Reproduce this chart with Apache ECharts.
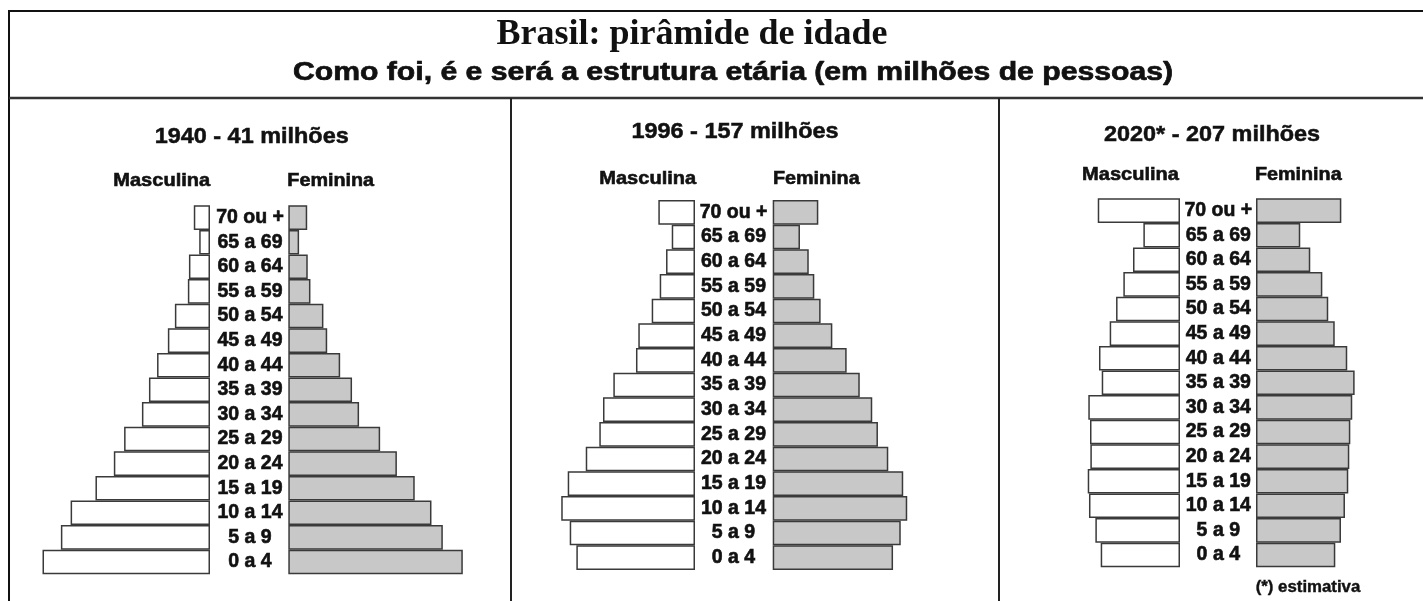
<!DOCTYPE html>
<html>
<head>
<meta charset="utf-8">
<script src="https://cdn.jsdelivr.net/npm/echarts@6/dist/echarts.min.js"></script>
<style>html,body{margin:0;padding:0;background:#fff}#c{width:1423px;height:601px}</style>
</head>
<body>
<div id="c"></div>
<script>
// Age groups, youngest (bottom) to oldest (top)
const ageGroups = ['0 a 4','5 a 9','10 a 14','15 a 19','20 a 24','25 a 29','30 a 34','35 a 39','40 a 44','45 a 49','50 a 54','55 a 59','60 a 64','65 a 69','70 ou +'];

// Population in millions
const male1940   = [3.10, 2.76, 2.58, 2.12, 1.78, 1.59, 1.26, 1.13, 0.98, 0.78, 0.65, 0.41, 0.39, 0.20, 0.30];
const female1940 = [3.23, 2.86, 2.65, 2.34, 2.01, 1.70, 1.31, 1.18, 0.96, 0.72, 0.65, 0.41, 0.36, 0.20, 0.35];
const male1996   = [7.70, 8.13, 8.68, 8.26, 7.09, 6.21, 5.97, 5.30, 3.83, 3.68, 2.81, 2.29, 1.88, 1.51, 2.38];
const female1996 = [7.81, 8.31, 8.73, 8.47, 7.50, 6.83, 6.46, 5.65, 4.80, 3.87, 3.11, 2.70, 2.34, 1.77, 2.96];
const male2020   = [6.97, 7.44, 8.00, 8.11, 7.88, 7.91, 8.06, 6.88, 7.12, 6.18, 5.62, 4.98, 4.13, 3.22, 7.23];
const female2020 = [6.97, 7.47, 7.82, 8.11, 8.20, 8.29, 8.46, 8.67, 8.02, 6.92, 6.35, 5.83, 4.77, 3.89, 7.50];

const mainTitle = 'Brasil: pirâmide de idade';
const subTitle = 'Como foi, é e será a estrutura etária (em milhões de pessoas)';
const panelTitles = ['1940 - 41 milhões', '1996 - 157 milhões', '2020* - 207 milhões'];
const sexLabels = ['Masculina', 'Feminina'];
const footnote = '(*) estimativa';

// Layout of each panel (pixels)
const panels = [
  {male: male1940, female: female1940, max: 3.5, w: 189.1, top: 205.3, h: 369, mRight: 210, fLeft: 288.3, margin: 40,
   title: [251.7, 137], mLab: [161.7, 181], fLab: [330.7, 181]},
  {male: male1996, female: female1996, max: 9.5, w: 146.4, top: 200, h: 370, mRight: 695, fLeft: 772.7, margin: 38.5,
   title: [735, 131.7], mLab: [647.7, 179], fLab: [816.3, 179]},
  {male: male2020, female: female2020, max: 9, w: 102.4, top: 198.3, h: 369, mRight: 1180, fLeft: 1256, margin: 38.3,
   title: [1212, 135], mLab: [1130.5, 175], fLab: [1298.3, 175]}
];

const SANS = '"Liberation Sans", Arial, sans-serif';
const INK = '#111';
const EDGE = '#3a3a3a';

const grid = [], xAxis = [], yAxis = [], series = [];
panels.forEach((p, i) => {
  grid.push({left: p.mRight - p.w, top: p.top, width: p.w, height: p.h, containLabel: false});
  grid.push({left: p.fLeft, top: p.top, width: p.w, height: p.h, containLabel: false});
  xAxis.push({type: 'value', gridIndex: 2*i, min: 0, max: p.max, inverse: true, show: false});
  xAxis.push({type: 'value', gridIndex: 2*i+1, min: 0, max: p.max, show: false});
  yAxis.push({type: 'category', gridIndex: 2*i, data: ageGroups, position: 'right',
    axisLine: {show: false, onZero: false}, axisTick: {show: false}, splitLine: {show: false},
    axisLabel: {interval: 0, align: 'center', margin: p.margin, fontFamily: SANS, fontWeight: 'bold', fontSize: 19.5,
      color: INK, textBorderColor: INK, textBorderWidth: 0.6}});
  yAxis.push({type: 'category', gridIndex: 2*i+1, data: ageGroups, show: false});
  series.push({type: 'bar', xAxisIndex: 2*i, yAxisIndex: 2*i, data: p.male, barWidth: '100%', barCategoryGap: '0%', barGap: '0%',
    itemStyle: {color: '#ffffff', borderColor: EDGE, borderWidth: 1.5}, silent: true});
  series.push({type: 'bar', xAxisIndex: 2*i+1, yAxisIndex: 2*i+1, data: p.female, barWidth: '100%', barCategoryGap: '0%', barGap: '0%',
    itemStyle: {color: '#c8c8c8', borderColor: EDGE, borderWidth: 1.5}, silent: true});
});

function txt(s, x, y, size, sx, bw) {
  return {type: 'text', x: x, y: y, scaleX: sx || 1, z: 10,
    style: {text: s, x: 0, y: 0, align: 'center', verticalAlign: 'middle', fontFamily: SANS, fontWeight: 'bold',
      fontSize: size, fill: INK, stroke: INK, lineWidth: bw == null ? 0.6 : bw}};
}
function line(x1, y1, x2, y2, w, c) {
  return {type: 'line', z: 5, shape: {x1: x1, y1: y1, x2: x2, y2: y2}, style: {stroke: c || INK, lineWidth: w}};
}

const graphic = [
  line(9, 11, 1423, 11, 2, '#111'),
  line(9, 10, 9, 601, 2, '#111'),
  line(9, 98, 1423, 98, 2.5, '#333'),
  line(511, 98, 511, 601, 2, '#222'),
  line(999, 98, 999, 601, 2, '#222'),
  {type: 'text', x: 692, y: 35, z: 10, style: {text: mainTitle, x: 0, y: 0, align: 'center', verticalAlign: 'middle',
    fontFamily: '"Liberation Serif", "Times New Roman", serif', fontWeight: 'bold', fontSize: 36, fill: INK}},
  txt(subTitle, 733, 72.5, 26, 1.16, 0.7),
  txt(footnote, 1308, 588, 16, 1.05, 0.4)
];
panels.forEach((p, i) => {
  graphic.push(txt(panelTitles[i], p.title[0], p.title[1], 22, 1.065, 0.5));
  graphic.push(txt(sexLabels[0], p.mLab[0], p.mLab[1], 19, 1.055, 0.6));
  graphic.push(txt(sexLabels[1], p.fLab[0], p.fLab[1], 19, 1.04, 0.6));
});

const chart = echarts.init(document.getElementById('c'), null, {renderer: 'canvas'});
chart.setOption({
  animation: false,
  backgroundColor: '#ffffff',
  grid: grid, xAxis: xAxis, yAxis: yAxis, series: series,
  graphic: graphic
});
</script>
</body>
</html>
